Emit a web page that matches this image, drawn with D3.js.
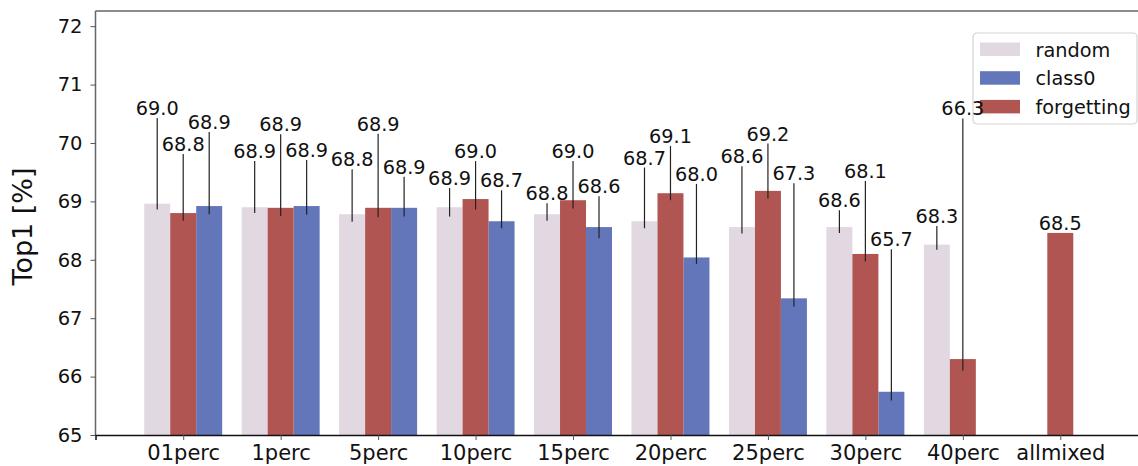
<!DOCTYPE html>
<html>
<head>
<meta charset="utf-8">
<script src="https://cdn.jsdelivr.net/npm/d3@7"></script>
<style>
  html, body { margin: 0; padding: 0; background: #fff; }
  svg { display: block; font-family: "DejaVu Sans", sans-serif; }
</style>
</head>
<body>
<svg id="chart" width="1138" height="466"></svg>
<script>
// Categories along the x axis
const categories = ["01perc", "1perc", "5perc", "10perc", "15perc", "20perc", "25perc", "30perc", "40perc", "allmixed"];

// Mean Top1 accuracy per series (null = not run)
const randomMean     = [68.96, 68.90, 68.78, 68.90, 68.78, 68.66, 68.56, 68.56, 68.26, null];
const forgettingMean = [68.80, 68.89, 68.89, 69.04, 69.02, 69.14, 69.18, 68.10, 66.30, 68.46];
const class0Mean     = [68.92, 68.92, 68.89, 68.66, 68.56, 68.04, 67.34, 65.74, null, null];

// Spread of runs (low, high) per series
const randomLow      = [68.86, 68.80, 68.65, 68.74, 68.67, 68.54, 68.45, 68.46, 68.17, null];
const randomHigh     = [70.43, 69.69, 69.55, 69.23, 68.97, 69.58, 69.60, 68.85, 68.58, null];
const forgettingLow  = [68.67, 68.75, 68.73, 68.86, 68.88, 69.02, 69.05, 67.97, 66.10, null];
const forgettingHigh = [69.81, 70.15, 70.16, 69.69, 69.69, 69.95, 69.99, 69.35, 70.42, null];
const class0Low      = [68.78, 68.77, 68.74, 68.54, 68.37, 67.93, 67.20, 65.59, null, null];
const class0High     = [70.19, 69.71, 69.42, 69.19, 69.09, 69.30, 69.31, 68.18, null, null];

const yTicks = [65, 66, 67, 68, 69, 70, 71, 72];
const yLabel = "Top1 [%]";

// Series, in legend order; slot = position inside a group
const series = [
  { name: "random",     color: "#e1d8e1", slot: -1, mean: randomMean,     low: randomLow,     high: randomHigh },
  { name: "class0",     color: "#6276b9", slot:  1, mean: class0Mean,     low: class0Low,     high: class0High },
  { name: "forgetting", color: "#b05551", slot:  0, mean: forgettingMean, low: forgettingLow, high: forgettingHigh }
];

const svg = d3.select("#chart");
const plot = { left: 95.5, top: 11, bottom: 435, right: 1148 };

const x = d3.scaleLinear().domain([-0.9, categories.length - 0.1]).range([plot.left, plot.right]);
const y = d3.scaleLinear().domain([65, 72.26]).range([plot.bottom, plot.top]);
const step = x(1) - x(0);
const barW = step * 0.8 / 3;

// Bars
series.forEach(s => {
  const items = categories.map((c, i) => ({ i, v: s.mean[i], lo: s.low[i], hi: s.high[i] }))
                          .filter(d => d.v != null);
  const g = svg.append("g");
  g.selectAll("rect").data(items).join("rect")
    .attr("x", d => x(d.i) + s.slot * barW - barW / 2)
    .attr("width", barW)
    .attr("y", d => y(d.v))
    .attr("height", d => y(65) - y(d.v))
    .attr("fill", s.color);
  s.items = items;
});

// Spread lines
series.forEach(s => {
  svg.append("g").selectAll("line").data(s.items.filter(d => d.lo != null)).join("line")
    .attr("x1", d => x(d.i) + s.slot * barW)
    .attr("x2", d => x(d.i) + s.slot * barW)
    .attr("y1", d => y(d.lo))
    .attr("y2", d => y(d.hi))
    .attr("stroke", "#222")
    .attr("stroke-width", 1.2);
});

// Frame: left and top spines
svg.append("line").attr("x1", plot.left).attr("x2", plot.left).attr("y1", plot.top).attr("y2", plot.bottom)
  .attr("stroke", "#666").attr("stroke-width", 1.5);
svg.append("line").attr("x1", plot.left).attr("x2", plot.right).attr("y1", plot.top).attr("y2", plot.top)
  .attr("stroke", "#666").attr("stroke-width", 1.5);

// Y axis
const yAxis = svg.append("g").attr("transform", `translate(${plot.left},0)`)
  .call(d3.axisLeft(y).tickValues(yTicks).tickFormat(d3.format("d")).tickSize(5).tickPadding(8));
yAxis.select(".domain").remove();
yAxis.selectAll(".tick line").attr("stroke", "#555");
yAxis.selectAll(".tick text").attr("font-size", 19.5).attr("fill", "#111").attr("font-family", "DejaVu Sans");

// X axis
const xAxis = svg.append("g").attr("transform", `translate(0,${plot.bottom})`)
  .call(d3.axisBottom(x).tickValues(d3.range(categories.length)).tickFormat(i => categories[i]).tickSize(5).tickPadding(5));
xAxis.select(".domain").attr("stroke", "#111").attr("stroke-width", 1.5);
xAxis.selectAll(".tick line").attr("stroke", "#555");
xAxis.selectAll(".tick text").attr("font-size", 21).attr("fill", "#111").attr("font-family", "DejaVu Sans");

// Y axis title
svg.append("text")
  .attr("transform", `translate(32,226.5) rotate(-90)`)
  .attr("text-anchor", "middle")
  .attr("font-size", 27)
  .attr("fill", "#111")
  .text(yLabel);

// Legend
const legend = svg.append("g").attr("transform", "translate(973,33)");
legend.append("rect").attr("width", 164).attr("height", 91).attr("rx", 4)
  .attr("fill", "#fff").attr("fill-opacity", 0.8).attr("stroke", "#d4d4d4").attr("stroke-width", 1.2);
series.forEach((s, k) => {
  const row = legend.append("g").attr("transform", `translate(7,${9.5 + k * 28.7})`);
  row.append("rect").attr("width", 40).attr("height", 13.5).attr("fill", s.color);
  row.append("text").attr("x", 55.5).attr("y", 14).attr("font-size", 19.3).attr("fill", "#111").text(s.name);
});

// Value labels, drawn last so they sit above the legend
series.forEach(s => {
  svg.append("g").selectAll("text").data(s.items).join("text")
    .attr("x", d => x(d.i) + s.slot * barW)
    .attr("y", d => y(d.hi != null ? d.hi : d.v) - 3)
    .attr("text-anchor", "middle")
    .attr("font-size", 19.3)
    .attr("fill", "#111")
    .text(d => d.v.toFixed(1));
});
</script>
</body>
</html>
